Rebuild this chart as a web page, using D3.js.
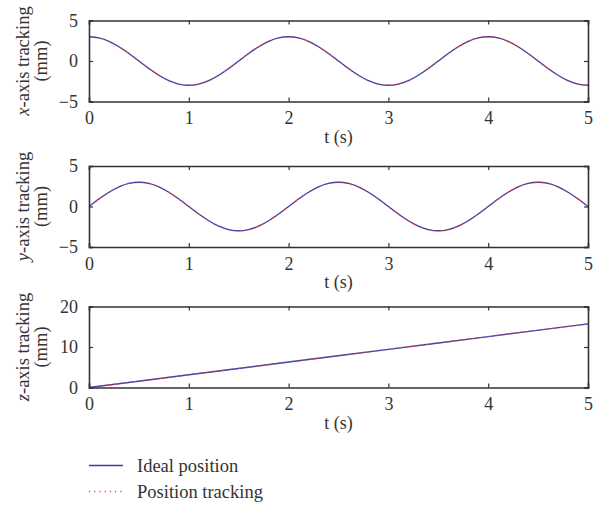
<!DOCTYPE html>
<html>
<head>
<meta charset="utf-8">
<script src="https://cdn.jsdelivr.net/npm/d3@7/dist/d3.min.js"></script>
<style>
  html, body { margin: 0; padding: 0; background: #fff; }
  svg text { font-family: "Liberation Serif", "Times New Roman", serif; fill: #333; }
</style>
</head>
<body>
<svg id="chart" width="600" height="505"></svg>
<script>
// Time samples (s)
const time = d3.range(0, 51).map(i => +(i * 0.1).toFixed(1));

// x-axis tracking (mm)
const idealX = [
  3.00, 2.85, 2.43, 1.76, 0.93, 0.00, -0.93, -1.76, -2.43, -2.85,
  -3.00, -2.85, -2.43, -1.76, -0.93, 0.00, 0.93, 1.76, 2.43, 2.85,
  3.00, 2.85, 2.43, 1.76, 0.93, 0.00, -0.93, -1.76, -2.43, -2.85,
  -3.00, -2.85, -2.43, -1.76, -0.93, 0.00, 0.93, 1.76, 2.43, 2.85,
  3.00, 2.85, 2.43, 1.76, 0.93, 0.00, -0.93, -1.76, -2.43, -2.85,
  -3.00
];
const trackX = idealX.slice();

// y-axis tracking (mm)
const idealY = [
  0.00, 0.93, 1.76, 2.43, 2.85, 3.00, 2.85, 2.43, 1.76, 0.93,
  0.00, -0.93, -1.76, -2.43, -2.85, -3.00, -2.85, -2.43, -1.76, -0.93,
  0.00, 0.93, 1.76, 2.43, 2.85, 3.00, 2.85, 2.43, 1.76, 0.93,
  0.00, -0.93, -1.76, -2.43, -2.85, -3.00, -2.85, -2.43, -1.76, -0.93,
  0.00, 0.93, 1.76, 2.43, 2.85, 3.00, 2.85, 2.43, 1.76, 0.93,
  0.00
];
const trackY = idealY.slice();

// z-axis tracking (mm), linear ramp
const timeZ = [0, 1, 2, 3, 4, 5];
const idealZ = [0.00, 3.14, 6.28, 9.42, 12.57, 15.71];
const trackZ = idealZ.slice();

const xTicks = [0, 1, 2, 3, 4, 5];
const legendLabels = ["Ideal position", "Position tracking"];

const panels = [
  { axis: "x", t: time, ideal: idealX, track: trackX, domain: [-5, 5], ticks: [-5, 0, 5], top: 20.5 },
  { axis: "y", t: time, ideal: idealY, track: trackY, domain: [-5, 5], ticks: [-5, 0, 5], top: 166 },
  { axis: "z", t: timeZ, ideal: idealZ, track: trackZ, domain: [0, 20], ticks: [0, 10, 20], top: 306.5 }
];

const serif = "'Liberation Serif', 'Times New Roman', serif";
const svg = d3.select("#chart");
const left = 89, right = 588, panelH = 81;
const axisColor = "#333";
const blue = "#3c3ca8";
const red = "#ee4a30";

const x = d3.scaleLinear().domain([0, 5]).range([left, right]);

panels.forEach(p => {
  const y = d3.scaleLinear().domain(p.domain).range([p.top + panelH, p.top]);
  const g = svg.append("g");

  const lineGen = d3.line()
    .x((d, i) => x(p.t[i]))
    .y(d => y(d))
    .curve(d3.curveCatmullRom);

  g.append("path").datum(p.ideal)
    .attr("d", lineGen).attr("fill", "none")
    .attr("stroke", blue).attr("stroke-width", 1.4);
  g.append("path").datum(p.track)
    .attr("d", lineGen).attr("fill", "none")
    .attr("stroke", red).attr("stroke-width", 1.2)
    .attr("stroke-dasharray", "1.2,3");

  // bottom / top / left / right axes, ticks pointing inward
  const bottom = g.append("g").attr("transform", `translate(0,${p.top + panelH})`)
    .call(d3.axisBottom(x).tickValues(xTicks).tickSize(-4).tickPadding(10).tickFormat(d3.format("d")));
  const topAx = g.append("g").attr("transform", `translate(0,${p.top})`)
    .call(d3.axisTop(x).tickValues(xTicks).tickSize(-4).tickFormat(""));
  const leftAx = g.append("g").attr("transform", `translate(${left},0)`)
    .call(d3.axisLeft(y).tickValues(p.ticks).tickSize(-4).tickPadding(11)
      .tickFormat(d => d < 0 ? "\u2212" + Math.abs(d) : d));
  const rightAx = g.append("g").attr("transform", `translate(${right},0)`)
    .call(d3.axisRight(y).tickValues(p.ticks).tickSize(-4).tickFormat(""));

  [bottom, topAx, leftAx, rightAx].forEach(a => {
    a.attr("font-family", serif);
    a.select(".domain").attr("stroke", axisColor).attr("stroke-width", 1.6);
    a.selectAll(".tick line").attr("stroke", axisColor).attr("stroke-width", 1.2);
    a.selectAll(".tick text").attr("fill", axisColor)
      .style("font-size", "18px").style("font-family", serif);
  });

  // x label
  g.append("text")
    .attr("x", (left + right) / 2).attr("y", p.top + panelH + 41)
    .attr("text-anchor", "middle").style("font-size", "18px")
    .text("t (s)");

  // y label (two lines, rotated)
  const cy = p.top + panelH / 2;
  const yl = g.append("text")
    .attr("transform", `translate(29,${cy}) rotate(-90)`)
    .attr("text-anchor", "middle").style("font-size", "18.5px");
  yl.append("tspan").style("font-style", "italic").text(p.axis);
  yl.append("tspan").text("-axis tracking");
  g.append("text")
    .attr("transform", `translate(47,${cy}) rotate(-90)`)
    .attr("text-anchor", "middle").style("font-size", "18.5px")
    .text("(mm)");
});

// legend
const legend = svg.append("g");
const legendStyles = [
  { color: blue, dash: null, width: 1.4 },
  { color: red, dash: "1.2,4", width: 1.3 }
];
legendLabels.forEach((label, i) => {
  const ly = 465.5 + i * 26;
  legend.append("line")
    .attr("x1", 89).attr("x2", 123).attr("y1", ly).attr("y2", ly)
    .attr("stroke", legendStyles[i].color)
    .attr("stroke-width", legendStyles[i].width)
    .attr("stroke-dasharray", legendStyles[i].dash);
  legend.append("text")
    .attr("x", 137).attr("y", ly + 6)
    .style("font-size", "18.5px")
    .text(label);
});
</script>
</body>
</html>
